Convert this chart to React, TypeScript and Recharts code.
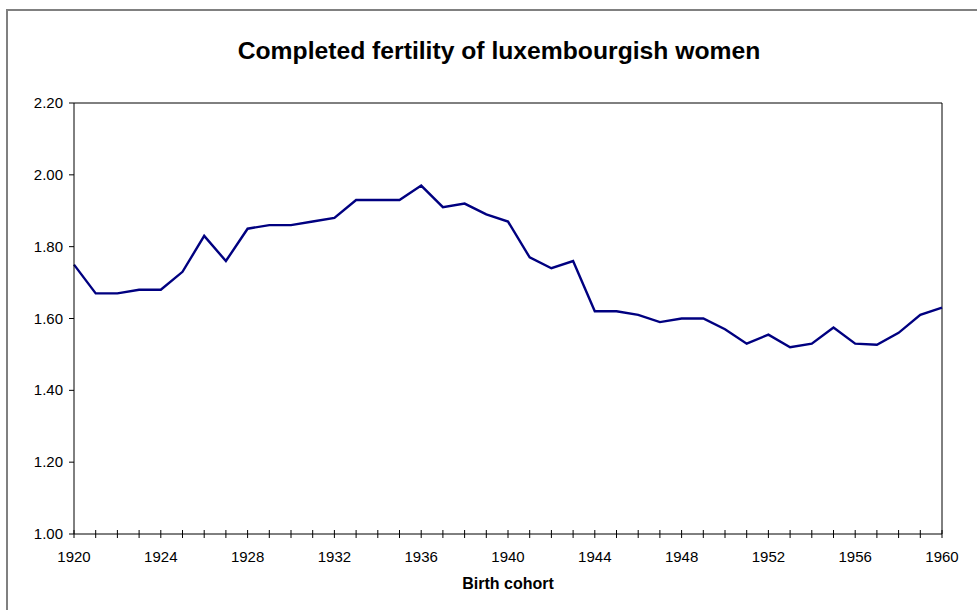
import { LineChart, Line, XAxis, YAxis, ReferenceLine } from 'recharts'

const years = [
  1920, 1921, 1922, 1923, 1924, 1925, 1926, 1927, 1928, 1929,
  1930, 1931, 1932, 1933, 1934, 1935, 1936, 1937, 1938, 1939,
  1940, 1941, 1942, 1943, 1944, 1945, 1946, 1947, 1948, 1949,
  1950, 1951, 1952, 1953, 1954, 1955, 1956, 1957, 1958, 1959, 1960,
]
const fertility = [
  1.75, 1.67, 1.67, 1.68, 1.68, 1.73, 1.83, 1.76, 1.85, 1.86,
  1.86, 1.87, 1.88, 1.93, 1.93, 1.93, 1.97, 1.91, 1.92, 1.89,
  1.87, 1.77, 1.74, 1.76, 1.62, 1.62, 1.61, 1.59, 1.60, 1.60,
  1.57, 1.53, 1.555, 1.52, 1.53, 1.575, 1.53, 1.527, 1.56, 1.61, 1.63,
]
const xLabels = [1920, 1924, 1928, 1932, 1936, 1940, 1944, 1948, 1952, 1956, 1960]
const yTicks = [1.0, 1.2, 1.4, 1.6, 1.8, 2.0, 2.2]

const data = years.map((year, i) => ({ year, value: fertility[i] }))

const FONT = '"Liberation Sans", Arial, sans-serif'

// ticks cross the axis line; labels only every 4 years
const XTick = (props: any) => {
  const { x, y, payload } = props
  const v = payload.value
  return (
    <g>
      <line x1={x} x2={x} y1={y - 4} y2={y + 4} stroke="#000" />
      {xLabels.includes(v) && (
        <text x={x} y={y + 28} textAnchor="middle" fontSize={15} fontFamily={FONT} fill="#000">{v}</text>
      )}
    </g>
  )
}

const YTick = (props: any) => {
  const { x, y, payload } = props
  return (
    <g>
      <line x1={x - 5} x2={x} y1={y} y2={y} stroke="#000" />
      <text x={x - 11} y={y + 5} textAnchor="end" fontSize={15} fontFamily={FONT} fill="#000">
        {payload.value.toFixed(2)}
      </text>
    </g>
  )
}

export default function App() {
  return (
    <div style={{ position: 'absolute', left: 0, top: 0, width: 977, height: 610, background: '#fff', overflow: 'hidden' }}>
      <div style={{
        position: 'absolute', left: 6, top: 9, width: 1000, height: 700,
        borderTop: '2px solid #808080', borderLeft: '2px solid #808080',
      }} />
      <div style={{
        position: 'absolute', left: 0, top: 37, width: 998, textAlign: 'center',
        fontFamily: FONT, fontWeight: 'bold', fontSize: 24.7, lineHeight: '28px', color: '#000',
      }}>
        Completed fertility of luxembourgish women
      </div>
      <div style={{
        position: 'absolute', left: 74, top: 574, width: 868, textAlign: 'center',
        fontFamily: FONT, fontWeight: 'bold', fontSize: 16, lineHeight: '20px', color: '#000',
      }}>
        Birth cohort
      </div>
      <div style={{ position: 'absolute', left: 0, top: 0 }}>
        <LineChart width={977} height={610} data={data} margin={{ top: 103, right: 35, bottom: 46, left: 14 }}>
          <XAxis
            dataKey="year" type="number" domain={[1920, 1960]} ticks={years}
            interval={0} tickLine={false} tickSize={0} tickMargin={0}
            axisLine={{ stroke: '#000' }} tick={<XTick />} height={30}
          />
          <YAxis
            type="number" domain={[1.0, 2.2]} ticks={yTicks} interval={0}
            tickLine={false} tickSize={0} tickMargin={0}
            axisLine={{ stroke: '#000' }} tick={<YTick />} width={60}
          />
          <ReferenceLine y={2.2} stroke="#000" />
          <ReferenceLine x={1960} stroke="#000" />
          <Line
            type="linear" dataKey="value" stroke="#000080" strokeWidth={2.4}
            dot={false} isAnimationActive={false}
          />
        </LineChart>
      </div>
    </div>
  )
}
